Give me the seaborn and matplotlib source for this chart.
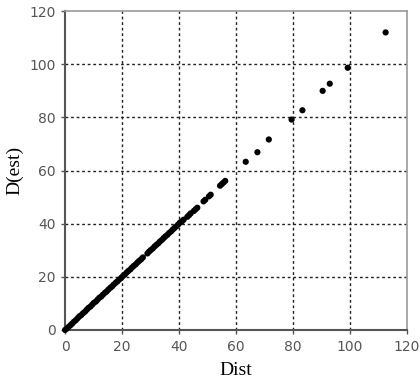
import pandas as pd
import seaborn as sns
from matplotlib import pyplot as plt

# values
dist = [0.0, 0.6, 1.2, 1.9, 2.5, 3.1, 3.8, 4.4, 5.0, 5.7, 6.3, 7.0, 7.6, 8.2,
        8.9, 9.5, 10.1, 10.8, 11.4, 12.0, 12.7, 13.3, 14.0, 14.6, 15.2, 15.9,
        16.5, 17.1, 17.8, 18.4, 19.0, 19.7, 20.3, 21.0, 21.6, 22.2, 22.9, 23.5,
        24.1, 24.8, 25.4, 26.0, 26.7, 27.3, 28.9, 29.5, 30.1, 30.8, 31.4, 32.0,
        32.7, 33.3, 34.0, 34.6, 35.2, 35.9, 36.5, 37.2, 37.8, 38.4, 39.1, 39.7,
        40.3, 41.0, 41.6, 42.9, 43.5, 44.1, 45.2, 45.8, 46.4, 48.6, 49.2, 50.5,
        51.1, 54.4, 55.0, 55.6, 56.2, 63.4, 67.5, 71.5, 79.5, 83.3, 90.4, 92.9,
        99.2, 112.5]
dest = [0.0, 0.5, 1.1, 1.8, 2.4, 3.1, 3.7, 4.4, 5.1, 5.6, 6.3, 6.9, 7.6, 8.3,
        8.8, 9.5, 10.2, 10.7, 11.4, 12.1, 12.6, 13.3, 14.0, 14.5, 15.2, 15.9,
        16.4, 17.1, 17.8, 18.3, 19.0, 19.6, 20.3, 20.9, 21.6, 22.2, 22.8, 23.5,
        24.1, 24.7, 25.4, 26.0, 26.6, 27.3, 28.8, 29.5, 30.1, 30.7, 31.4, 32.0,
        32.6, 33.3, 33.9, 34.6, 35.2, 35.8, 36.5, 37.1, 37.8, 38.4, 39.0, 39.7,
        40.4, 40.9, 41.5, 42.6, 43.2, 43.9, 44.8, 45.4, 46.0, 48.4, 49.0, 50.3,
        50.9, 54.3, 54.9, 55.5, 56.1, 63.3, 66.9, 71.7, 79.2, 82.7, 90.0, 92.7,
        98.7, 112.0]
ticks = [0, 20, 40, 60, 80, 100, 120]

data = pd.DataFrame({"Dist": dist, "D(est)": dest})

fig = plt.figure(figsize=(4.2, 3.85), dpi=100)
ax = fig.add_axes([0.155, 0.143, 0.814, 0.828])

sns.scatterplot(data=data, x="Dist", y="D(est)", ax=ax, color="black",
                s=20, edgecolor="none", clip_on=False, zorder=3)

ax.set_xlim(0, 120)
ax.set_ylim(0, 120)
ax.set_xticks(ticks)
ax.set_yticks(ticks)
ax.set_xticklabels([str(t) for t in ticks], fontsize=10, color="#555555")
ax.set_yticklabels([str(t) for t in ticks], fontsize=10, color="#555555")
ax.tick_params(length=3, width=1, color="#555555", pad=4)

for v in ticks[1:-1]:
    ax.axvline(v, color="#222222", lw=1, ls=(0, (2, 2)), zorder=1)
    ax.axhline(v, color="#222222", lw=1, ls=(0, (2, 2)), zorder=1)

for side in ["left", "bottom"]:
    ax.spines[side].set_color("#555555")
    ax.spines[side].set_linewidth(1.5)
for side in ["top", "right"]:
    ax.spines[side].set_color("#999999")
    ax.spines[side].set_linewidth(1.2)

ax.set_xlabel("Dist", fontsize=14, family="Liberation Serif", labelpad=6)
ax.set_ylabel("D(est)", fontsize=14, family="Liberation Serif", labelpad=4)

plt.savefig("out.png", dpi=100)
